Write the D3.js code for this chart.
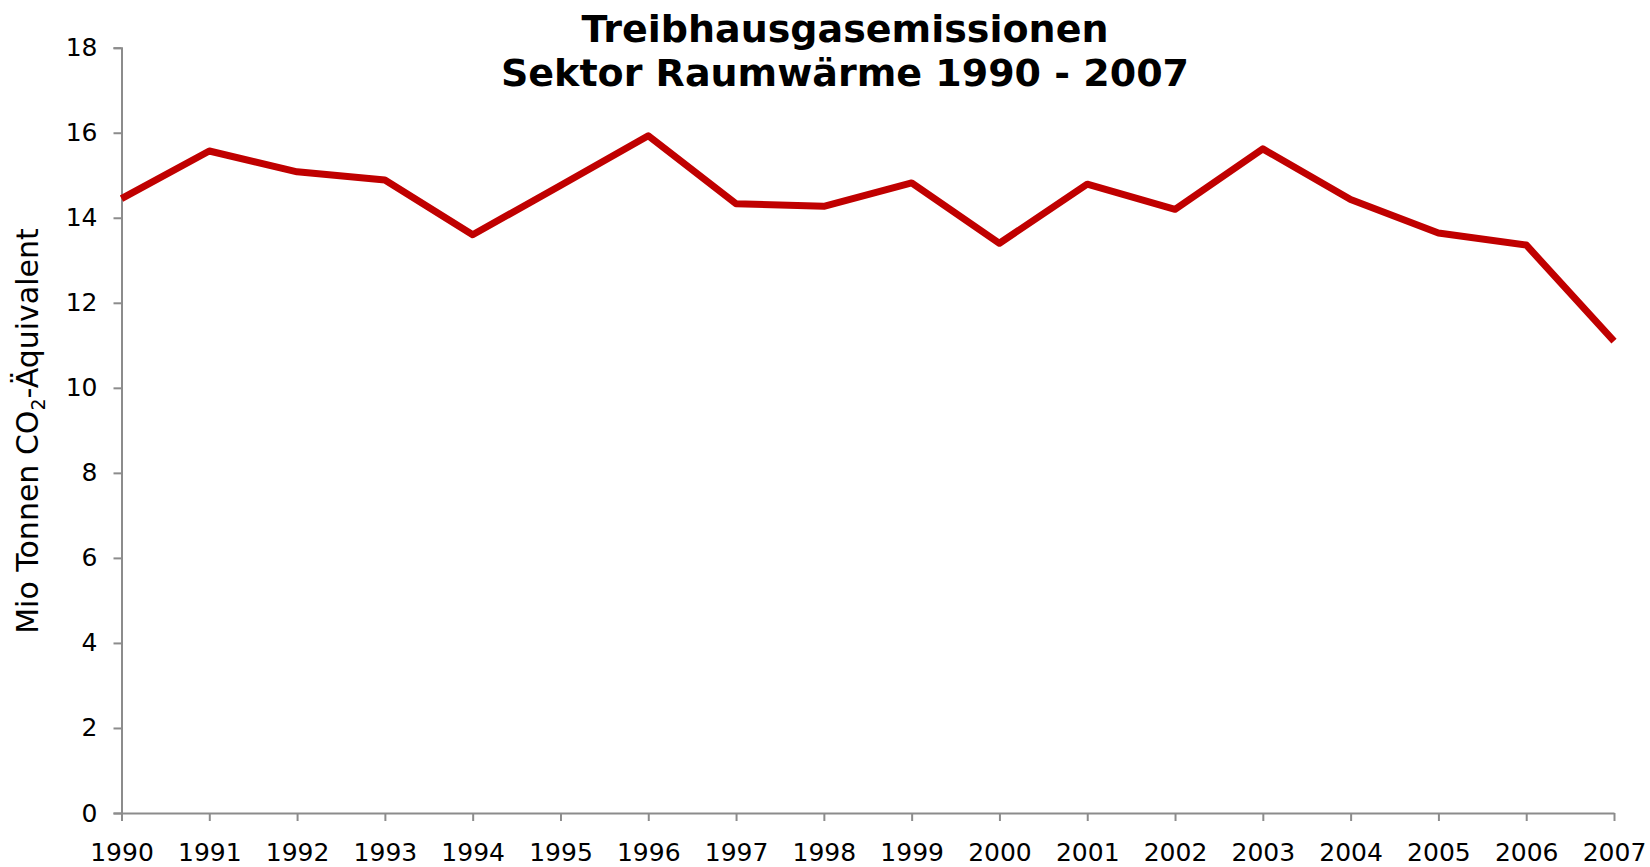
<!DOCTYPE html>
<html>
<head>
<meta charset="utf-8">
<script src="https://cdn.jsdelivr.net/npm/d3@7"></script>
<style>
  body { margin: 0; background: #fff; }
  svg { display: block; }
</style>
</head>
<body>
<div id="chart"></div>
<script>
// data
const years = [1990, 1991, 1992, 1993, 1994, 1995, 1996, 1997, 1998, 1999,
               2000, 2001, 2002, 2003, 2004, 2005, 2006, 2007];
const emissions = [14.45, 15.57, 15.08, 14.89, 13.6, 14.76, 15.93, 14.33, 14.27, 14.82,
                   13.4, 14.79, 14.2, 15.62, 14.43, 13.64, 13.36, 11.1];
const yTicks = [0, 2, 4, 6, 8, 10, 12, 14, 16, 18];
const titleLines = ["Treibhausgasemissionen", "Sektor Raumwärme 1990 - 2007"];

let width = 1650;
let height = 867;
let margin = {top: 47.7, right: 36, bottom: 54, left: 121.5};

let svg = d3.select('#chart').append('svg')
  .attr('width', width)
  .attr('height', height);

let x = d3.scalePoint()
  .domain(years)
  .range([margin.left, width - margin.right]);

let y = d3.scaleLinear()
  .domain([0, 18])
  .range([height - margin.bottom, margin.top]);

let axisColor = '#8c8c8c';
let font = 'DejaVu Sans, Verdana, sans-serif';

// y axis
let gy = svg.append('g')
  .attr('transform', 'translate(' + margin.left + ',0)')
  .call(d3.axisLeft(y).tickValues(yTicks).tickSize(8).tickPadding(16));
gy.select('.domain').attr('stroke', axisColor).attr('stroke-width', 2);
gy.selectAll('.tick line').attr('stroke', axisColor).attr('stroke-width', 2);
gy.selectAll('.tick text')
  .attr('fill', '#000')
  .style('font-family', font)
  .style('font-size', '25px');

// x axis
let gx = svg.append('g')
  .attr('transform', 'translate(0,' + (height - margin.bottom) + ')')
  .call(d3.axisBottom(x).tickSize(8).tickPadding(22).tickSizeOuter(0));
gx.select('.domain').attr('stroke', axisColor).attr('stroke-width', 2);
gx.selectAll('.tick line').attr('stroke', axisColor).attr('stroke-width', 2);
gx.selectAll('.tick text')
  .attr('fill', '#000')
  .style('font-family', font)
  .style('font-size', '25px');

// the line
let line = d3.line()
  .x((d, i) => x(years[i]))
  .y(d => y(d));

svg.append('path')
  .datum(emissions)
  .attr('d', line)
  .attr('fill', 'none')
  .attr('stroke', '#c00000')
  .attr('stroke-width', 7)
  .attr('stroke-linejoin', 'round');

// title
svg.append('g').selectAll('text')
  .data(titleLines)
  .enter()
  .append('text')
  .attr('x', 845)
  .attr('y', (d, i) => 42 + i * 44)
  .attr('text-anchor', 'middle')
  .style('font-family', font)
  .style('font-weight', 'bold')
  .style('font-size', '38px')
  .text(d => d);

// y axis title with subscript
let yt = svg.append('text')
  .attr('transform', 'translate(38,431) rotate(-90)')
  .attr('text-anchor', 'middle')
  .style('font-family', font)
  .style('font-size', '30px');
yt.append('tspan').text('Mio Tonnen CO');
yt.append('tspan').attr('dy', 7).style('font-size', '19px').text('2');
yt.append('tspan').attr('dy', -7).text('-Äquivalent');
</script>
</body>
</html>
